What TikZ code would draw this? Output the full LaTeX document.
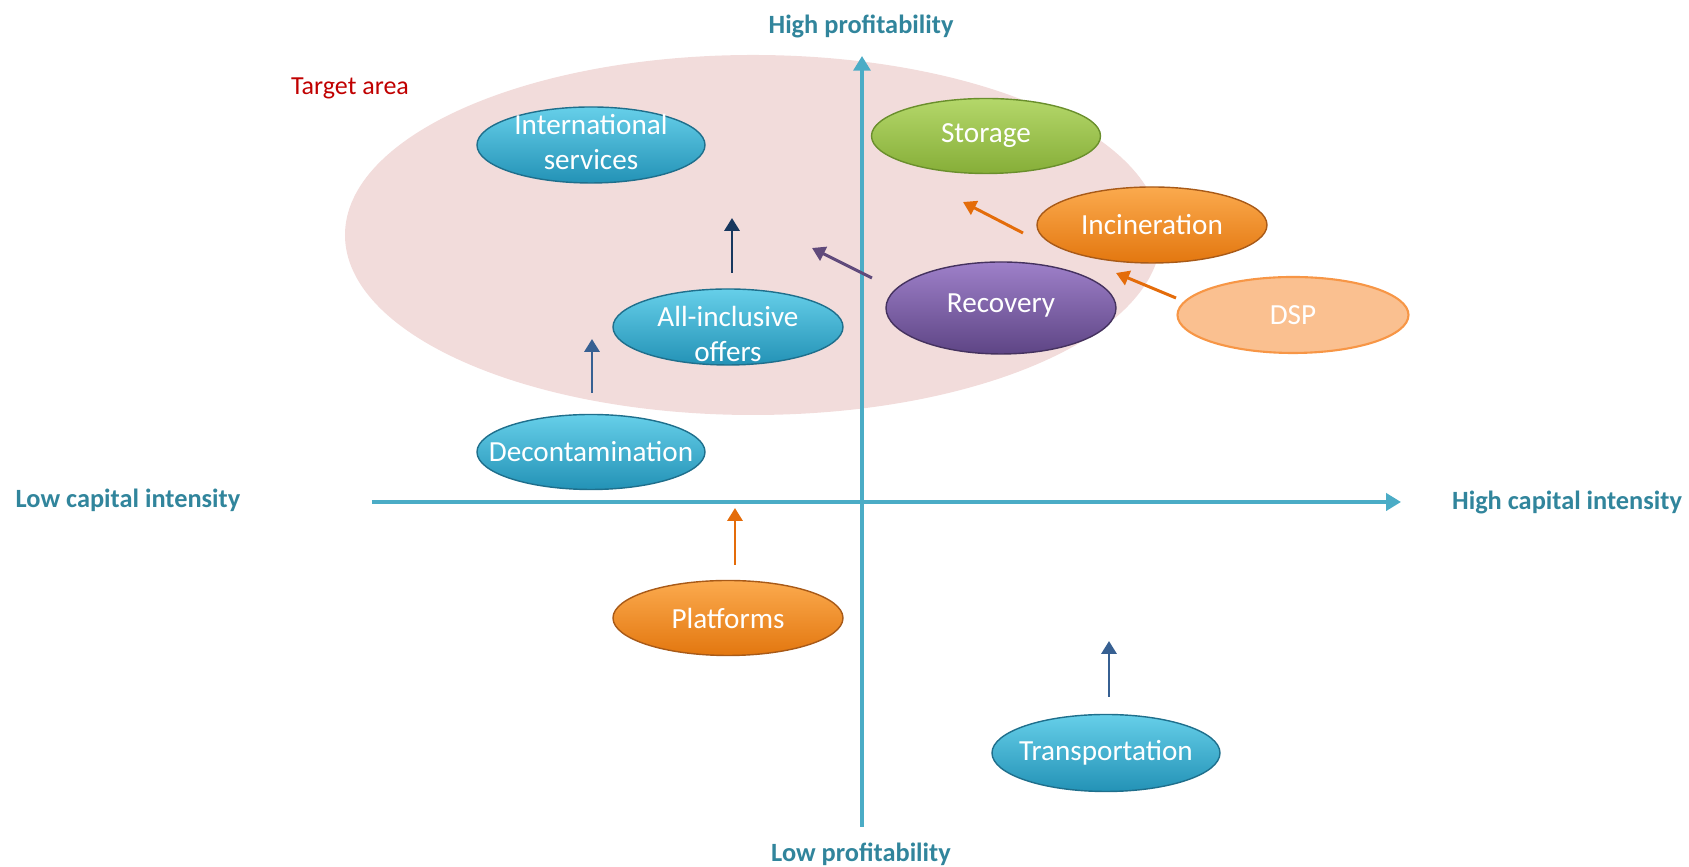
\documentclass[tikz,border=0pt]{standalone}
\usepackage{fontspec}
\setmainfont{Carlito}
\usepackage{tikz}
\usetikzlibrary{arrows.meta,shapes.geometric}

\definecolor{axcol}{HTML}{4BACC6}
\definecolor{labcol}{HTML}{31859C}
\definecolor{areacol}{HTML}{F2DCDB}
\definecolor{tgtred}{HTML}{C00000}
\definecolor{cyanT}{HTML}{66CFE9}
\definecolor{cyanM}{HTML}{38B2D6}
\definecolor{cyanB}{HTML}{2392B6}
\definecolor{cyanD}{HTML}{1F6F8C}
\definecolor{greenT}{HTML}{B4D76A}
\definecolor{greenM}{HTML}{9BC44C}
\definecolor{greenB}{HTML}{86AE38}
\definecolor{greenD}{HTML}{6A8F2C}
\definecolor{orangeT}{HTML}{FBAA4E}
\definecolor{orangeM}{HTML}{F7912F}
\definecolor{orangeB}{HTML}{E3770F}
\definecolor{orangeD}{HTML}{A85A18}
\definecolor{purpleT}{HTML}{9E80C9}
\definecolor{purpleM}{HTML}{8064A2}
\definecolor{purpleB}{HTML}{5E4585}
\definecolor{purpleD}{HTML}{45325F}
\definecolor{dspfill}{HTML}{FAC090}
\definecolor{dspline}{HTML}{F79646}
\definecolor{navyarr}{HTML}{17375E}
\definecolor{bluearr}{HTML}{376092}
\definecolor{purparr}{HTML}{604A7B}
\definecolor{orgarr}{HTML}{E46C0A}

\begin{document}
\begin{tikzpicture}[
  font=\fontsize{8.3}{10}\selectfont,
  blob/.style={ellipse, draw, line width=0.4pt, inner sep=0pt},
  cyanblob/.style={blob, draw=cyanD, top color=cyanT, middle color=cyanM, bottom color=cyanB},
  greenblob/.style={blob, draw=greenD, top color=greenT, middle color=greenM, bottom color=greenB},
  orangeblob/.style={blob, draw=orangeD, top color=orangeT, middle color=orangeM, bottom color=orangeB},
  purpleblob/.style={blob, draw=purpleD, top color=purpleT, middle color=purpleM, bottom color=purpleB},
  dspblob/.style={blob, draw=dspline, line width=0.6pt, fill=dspfill},
  txt/.style={text=white, align=center, inner sep=0pt},
  axlbl/.style={font=\fontsize{7.5}{9}\selectfont\bfseries, text=labcol},
  ax/.style={-{Triangle[length=4.2pt,width=4.8pt]}, line width=1.15pt, axcol},
  mv/.style={-{Triangle[length=3.7pt,width=4.3pt]}, line width=0.85pt},
]
  \useasboundingbox (-8.62,-3.65) rectangle (8.27,5.02);

  %=================== target area ===================
  \fill[areacol] (-1.09,2.67) ellipse [x radius=4.08, y radius=1.8];
  \node[font=\fontsize{7.4}{9}\selectfont, text=tgtred] (tgt) at (-5.12,4.14) {Target area};

  %=================== axes ===================
  \coordinate (xl) at (-4.90,0);
  \coordinate (xr) at (5.39,0);
  \coordinate (yb) at (0,-3.25);
  \coordinate (yt) at (0,4.46);
  \draw[ax] (xl) -- (xr);
  \draw[ax] (yb) -- (yt);
  \node[axlbl] (hiprof) at (-0.01,4.76)  {High profitability};
  \node[axlbl] (loprof) at (-0.01,-3.52) {Low profitability};
  \node[axlbl] (locap)  at (-7.34,0.02)  {Low capital intensity};
  \node[axlbl] (hicap)  at (7.05,0)      {High capital intensity};

  %=================== activities ===================
  \node[cyanblob, minimum width=22.8mm, minimum height=7.6mm] (intl) at (-2.71,3.57) {};
  \node[txt] (intl-t) at ([yshift=0.3mm]intl) {International\\services};

  \node[cyanblob, minimum width=23.0mm, minimum height=7.6mm] (allinc) at (-1.34,1.75) {};
  \node[txt] (allinc-t) at ([yshift=-0.7mm]allinc) {All-inclusive\\offers};

  \node[cyanblob, minimum width=22.8mm, minimum height=7.5mm] (decon) at (-2.71,0.50) {};
  \node[txt] (decon-t) at (decon) {Decontamination};

  \node[greenblob, minimum width=22.9mm, minimum height=7.5mm] (stor) at (1.24,3.66) {};
  \node[txt] (stor-t) at (stor) {Storage};

  \node[orangeblob, minimum width=23.0mm, minimum height=7.6mm] (incin) at (2.90,2.77) {};
  \node[txt] (incin-t) at (incin) {Incineration};

  \node[purpleblob, minimum width=23.0mm, minimum height=9.2mm] (recov) at (1.39,1.94) {};
  \node[txt] (recov-t) at ([yshift=0.2mm]recov) {Recovery};

  \node[dspblob, minimum width=23.1mm, minimum height=7.6mm] (dsp) at (4.31,1.87) {};
  \node[txt] (dsp-t) at (dsp) {DSP};

  \node[orangeblob, minimum width=23.0mm, minimum height=7.5mm] (platf) at (-1.34,-1.16) {};
  \node[txt] (platf-t) at (platf) {Platforms};

  \node[cyanblob, minimum width=22.8mm, minimum height=7.7mm] (transp) at (2.44,-2.51) {};
  \node[txt] (transp-t) at (transp) {Transportation};

  %=================== moves ===================
  \coordinate (n1) at (-1.30,2.29);  \coordinate (n2) at (-1.30,2.84);
  \coordinate (b1) at (-2.70,1.09);  \coordinate (b2) at (-2.70,1.63);
  \coordinate (p1) at (0.10,2.24);   \coordinate (p2) at (-0.50,2.54);
  \coordinate (i1) at (1.61,2.69);   \coordinate (i2) at (1.01,3.00);
  \coordinate (d1) at (3.14,2.04);   \coordinate (d2) at (2.54,2.29);
  \coordinate (f1) at (-1.27,-0.63); \coordinate (f2) at (-1.27,-0.06);
  \coordinate (t1) at (2.47,-1.95);  \coordinate (t2) at (2.47,-1.39);
  \draw[mv, navyarr] (n1) -- (n2);
  \draw[mv, bluearr] (b1) -- (b2);
  \draw[mv, purparr] (p1) -- (p2);
  \draw[mv, orgarr]  (i1) -- (i2);
  \draw[mv, orgarr]  (d1) -- (d2);
  \draw[mv, orgarr]  (f1) -- (f2);
  \draw[mv, bluearr] (t1) -- (t2);
\end{tikzpicture}
\end{document}
